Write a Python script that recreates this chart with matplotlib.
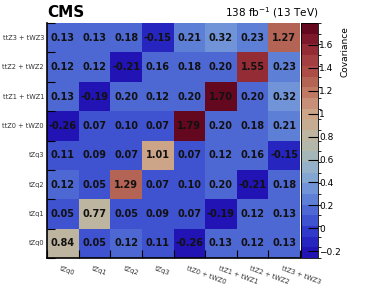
import numpy as np
import matplotlib
matplotlib.use('Agg')
import matplotlib.pyplot as plt
from matplotlib.colors import LinearSegmentedColormap, BoundaryNorm

# параметры (снизу вверх / слева направо)
labels = ['tZq0', 'tZq1', 'tZq2', 'tZq3',
          'ttZ0 + tWZ0', 'ttZ1 + tWZ1', 'ttZ2 + tWZ2', 'ttZ3 + tWZ3']
row_tZq0 = [0.84, 0.05, 0.12, 0.11, -0.26, 0.13, 0.12, 0.13]
row_tZq1 = [0.05, 0.77, 0.05, 0.09, 0.07, -0.19, 0.12, 0.13]
row_tZq2 = [0.12, 0.05, 1.29, 0.07, 0.10, 0.20, -0.21, 0.18]
row_tZq3 = [0.11, 0.09, 0.07, 1.01, 0.07, 0.12, 0.16, -0.15]
row_ttZ0 = [-0.26, 0.07, 0.10, 0.07, 1.79, 0.20, 0.18, 0.21]
row_ttZ1 = [0.13, -0.19, 0.20, 0.12, 0.20, 1.70, 0.20, 0.32]
row_ttZ2 = [0.12, 0.12, -0.21, 0.16, 0.18, 0.20, 1.55, 0.23]
row_ttZ3 = [0.13, 0.13, 0.18, -0.15, 0.21, 0.32, 0.23, 1.27]
cov = np.array([row_tZq0, row_tZq1, row_tZq2, row_tZq3,
                row_ttZ0, row_ttZ1, row_ttZ2, row_ttZ3])

vmin, vmax = -0.26, 1.79
# палитра как в ROOT
anchors = [(-0.26, '#2214b4'), (-0.1, '#2b30c6'), (0.0, '#3a4cce'),
           (0.1, '#4a62d2'), (0.2, '#5a7ad6'), (0.3, '#6c90d8'),
           (0.4, '#80a4d4'), (0.5, '#92b0cc'), (0.6, '#a2b6bc'),
           (0.7, '#b2b8ac'), (0.8, '#bcb6a0'), (0.9, '#c6ae92'),
           (1.0, '#cca488'), (1.1, '#c89078'), (1.2, '#c07a64'),
           (1.3, '#b46454'), (1.4, '#ac4c48'), (1.5, '#a23e40'),
           (1.6, '#922a34'), (1.7, '#7a1428'), (1.79, '#640820')]
cmap = LinearSegmentedColormap.from_list(
    'cov', [((v - vmin) / (vmax - vmin), c) for v, c in anchors])
levels = np.linspace(vmin, vmax, 23)
norm = BoundaryNorm(levels, cmap.N)

fig = plt.figure(figsize=(3.74, 3.04), dpi=100)
ax = fig.add_axes([0.126, 0.151, 0.676, 0.773])
cax = fig.add_axes([0.805, 0.151, 0.045, 0.773])

n = len(labels)
mesh = ax.pcolormesh(np.arange(n + 1), np.arange(n + 1), cov, cmap=cmap, norm=norm)
for i in range(n):
    for j in range(n):
        ax.text(j + 0.5, i + 0.5, '%.2f' % cov[i, j], ha='center', va='center',
                fontsize=7, fontweight='bold', color='#111111')

ax.set_xlim(0, n)
ax.set_ylim(0, n)
ax.set_xticks(np.arange(n + 1))
ax.set_yticks(np.arange(n + 1))
ax.set_xticklabels([])
ax.set_yticklabels([])
ax.tick_params(direction='in', length=6, width=0.8, top=False, right=False)
for sp in ['top', 'right']:
    ax.spines[sp].set_visible(False)
for sp in ['left', 'bottom']:
    ax.spines[sp].set_linewidth(1.2)

for k, lab in enumerate(labels):
    ax.text(-0.1, k + 0.5, lab, ha='right', va='center', fontsize=4.8, color='#333333')
    ax.text(k + 0.45, -0.25, lab, ha='left', va='top', fontsize=4.8, color='#333333',
            rotation=-20, rotation_mode='anchor')

cb = fig.colorbar(mesh, cax=cax, ticks=[-0.2, 0, 0.2, 0.4, 0.6, 0.8, 1, 1.2, 1.4, 1.6])
cb.ax.set_yticklabels(['\u22120.2', '0', '0.2', '0.4', '0.6', '0.8', '1', '1.2', '1.4', '1.6'])
cb.ax.tick_params(direction='in', length=7, width=0.8, labelsize=6.5, pad=1)
cb.outline.set_linewidth(0.6)
cb.ax.set_ylabel('Covariance', fontsize=6.5, rotation=90, va='center', ha='center')
cb.ax.yaxis.set_label_coords(2.6, 0.88)

fig.text(0.126, 0.935, 'CMS', fontsize=11, fontweight='bold', ha='left', va='bottom')
fig.text(0.85, 0.935, r'138 fb$^{-1}$ (13 TeV)', fontsize=7.5, ha='right', va='bottom')

plt.savefig('out.png', dpi=100)
